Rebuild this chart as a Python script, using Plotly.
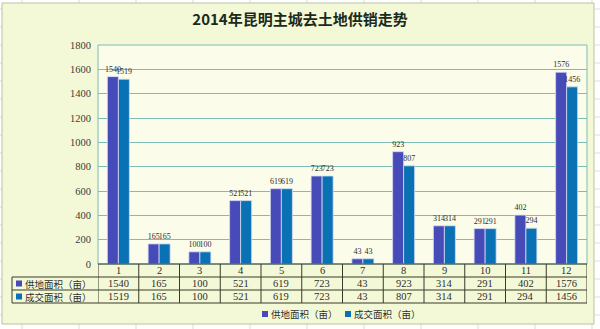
import plotly.graph_objects as go

# ---- data -------------------------------------------------------------
months = ["1", "2", "3", "4", "5", "6", "7", "8", "9", "10", "11", "12"]
supply_area = [1540, 165, 100, 521, 619, 723, 43, 923, 314, 291, 402, 1576]
deal_area = [1519, 165, 100, 521, 619, 723, 43, 807, 314, 291, 294, 1456]
series_names = ["供地面积（亩）", "成交面积（亩）"]
y_ticks = [0, 200, 400, 600, 800, 1000, 1200, 1400, 1600, 1800]
title_text = "2014年昆明主城去土地供销走势"

# ---- styling ----------------------------------------------------------
C_SUPPLY = "#474BB8"
C_DEAL = "#0A71B5"
GRID = "#7DBDB5"
LINE = "#3A3A2C"
TXT = "#2E2E2E"
SERIF = "Liberation Serif, DejaVu Serif, serif"
CJK = "Noto Sans CJK SC, sans-serif"

W_PX, H_PX = 600, 329
PL, PR, PT, PB = 98, 587, 45, 264          # plot area in pixels
PW, PH = PR - PL, PB - PT
ROW = 13                                    # data-table row height


def fx(px):
    return (px - PL) / PW


def fy(py):
    return (PB - py) / PH


fig = go.Figure()
for name, vals, col in [(series_names[0], supply_area, C_SUPPLY),
                        (series_names[1], deal_area, C_DEAL)]:
    fig.add_trace(go.Bar(
        x=months, y=vals, name=name,
        marker=dict(color=col, line=dict(color="#D6DCF2", width=0.8)),
        text=vals, texttemplate="%{text}", textposition="outside",
        textfont=dict(family=SERIF, size=8, color=TXT),
        constraintext="none", cliponaxis=False, showlegend=False,
    ))

shapes = []
# faint worksheet cell lines around the chart
sheet_ln = dict(color="#D9DDD6", width=1)
for py in range(9, H_PX, 18):
    for xa, xb in ((0, 2), (595, W_PX)):
        shapes.append(dict(type="line", xref="paper", yref="paper",
                           x0=fx(xa), x1=fx(xb), y0=fy(py), y1=fy(py),
                           line=sheet_ln, layer="below"))
for px in range(22, W_PX, 57):
    for ya, yb in ((0, 3), (324, H_PX)):
        shapes.append(dict(type="line", xref="paper", yref="paper",
                           x0=fx(px), x1=fx(px), y0=fy(ya), y1=fy(yb),
                           line=sheet_ln, layer="below"))

# chart area and plot area backgrounds
shapes.append(dict(type="rect", xref="paper", yref="paper",
                   x0=fx(2), x1=fx(594), y0=fy(324), y1=fy(3),
                   fillcolor="#F3F9D6", line=dict(color="#B8C4A4", width=1),
                   layer="below"))
shapes.append(dict(type="rect", xref="paper", yref="paper",
                   x0=0, x1=1, y0=0, y1=1,
                   fillcolor="#FBFDEA", line=dict(color=GRID, width=1),
                   layer="below"))

# data table grid
ln = dict(color=LINE, width=1)
shapes.append(dict(type="line", xref="paper", yref="paper",
                   x0=0, x1=1, y0=fy(PB), y1=fy(PB), line=ln))
for r in (1, 2, 3):
    shapes.append(dict(type="line", xref="paper", yref="paper",
                       x0=fx(12), x1=1, y0=fy(PB + r * ROW), y1=fy(PB + r * ROW),
                       line=ln))
shapes.append(dict(type="line", xref="paper", yref="paper",
                   x0=fx(12), x1=fx(12), y0=fy(PB + ROW), y1=fy(PB + 3 * ROW),
                   line=ln))
for i in range(len(months) + 1):
    shapes.append(dict(type="line", xref="x", yref="paper",
                       x0=i - 0.5, x1=i - 0.5, y0=fy(PB), y1=fy(PB + 3 * ROW),
                       line=ln))

annotations = []
# category row and value rows (x given as category index)
for i, m in enumerate(months):
    annotations.append(dict(x=i, xref="x", y=fy(PB + ROW / 2), yref="paper",
                            xanchor="center", yanchor="middle",
                            text=m, showarrow=False,
                            font=dict(family=SERIF, size=10.5, color=TXT)))
    for r, vals in enumerate((supply_area, deal_area), start=1):
        annotations.append(dict(x=i, xref="x", y=fy(PB + ROW * r + ROW / 2),
                                yref="paper", xanchor="center", yanchor="middle",
                                text=str(vals[i]), showarrow=False,
                                font=dict(family=SERIF, size=10.5, color=TXT)))

# row headers with colour keys
for r, (name, col) in enumerate(zip(series_names, (C_SUPPLY, C_DEAL)), start=1):
    cy = PB + ROW * r + ROW / 2
    shapes.append(dict(type="rect", xref="paper", yref="paper",
                       x0=fx(16), x1=fx(22), y0=fy(cy + 3), y1=fy(cy - 3),
                       fillcolor=col, line=dict(width=0)))
    annotations.append(dict(x=fx(23), xref="paper", y=fy(cy), yref="paper",
                            xanchor="left", yanchor="middle",
                            text=name, showarrow=False,
                            font=dict(family=CJK, size=9.5, color=TXT)))

# legend underneath
for name, col, lx in zip(series_names, (C_SUPPLY, C_DEAL), (262, 345)):
    shapes.append(dict(type="rect", xref="paper", yref="paper",
                       x0=fx(lx), x1=fx(lx + 6), y0=fy(317), y1=fy(311),
                       fillcolor=col, line=dict(width=0)))
    annotations.append(dict(x=fx(lx + 7), xref="paper", y=fy(314), yref="paper",
                            xanchor="left", yanchor="middle",
                            text=name, showarrow=False,
                            font=dict(family=CJK, size=9.5, color=TXT)))

fig.update_layout(
    width=W_PX, height=H_PX,
    margin=dict(l=PL, r=W_PX - PR, t=PT, b=H_PX - PB),
    paper_bgcolor="#FFFFFF", plot_bgcolor="rgba(0,0,0,0)",
    barmode="group", bargap=0.46, bargroupgap=0.0,
    title=dict(text="<b>" + title_text + "</b>", xref="container", x=0.5,
               xanchor="center", yref="container", y=1 - 20 / H_PX,
               yanchor="middle", font=dict(family=CJK, size=15, color="#1B2A1B")),
    xaxis=dict(type="category", range=[-0.5, len(months) - 0.5],
               showticklabels=False, showgrid=False, zeroline=False,
               showline=False, ticks=""),
    yaxis=dict(range=[0, 1800], tickvals=y_ticks, showgrid=True,
               gridcolor=GRID, gridwidth=1, zeroline=False, showline=False,
               ticks="outside", ticklen=4, tickcolor="rgba(0,0,0,0)",
               tickfont=dict(family=SERIF, size=10.5, color="#3A3A3A")),
    shapes=shapes, annotations=annotations,
    showlegend=False,
)

fig.write_html("out.html")
